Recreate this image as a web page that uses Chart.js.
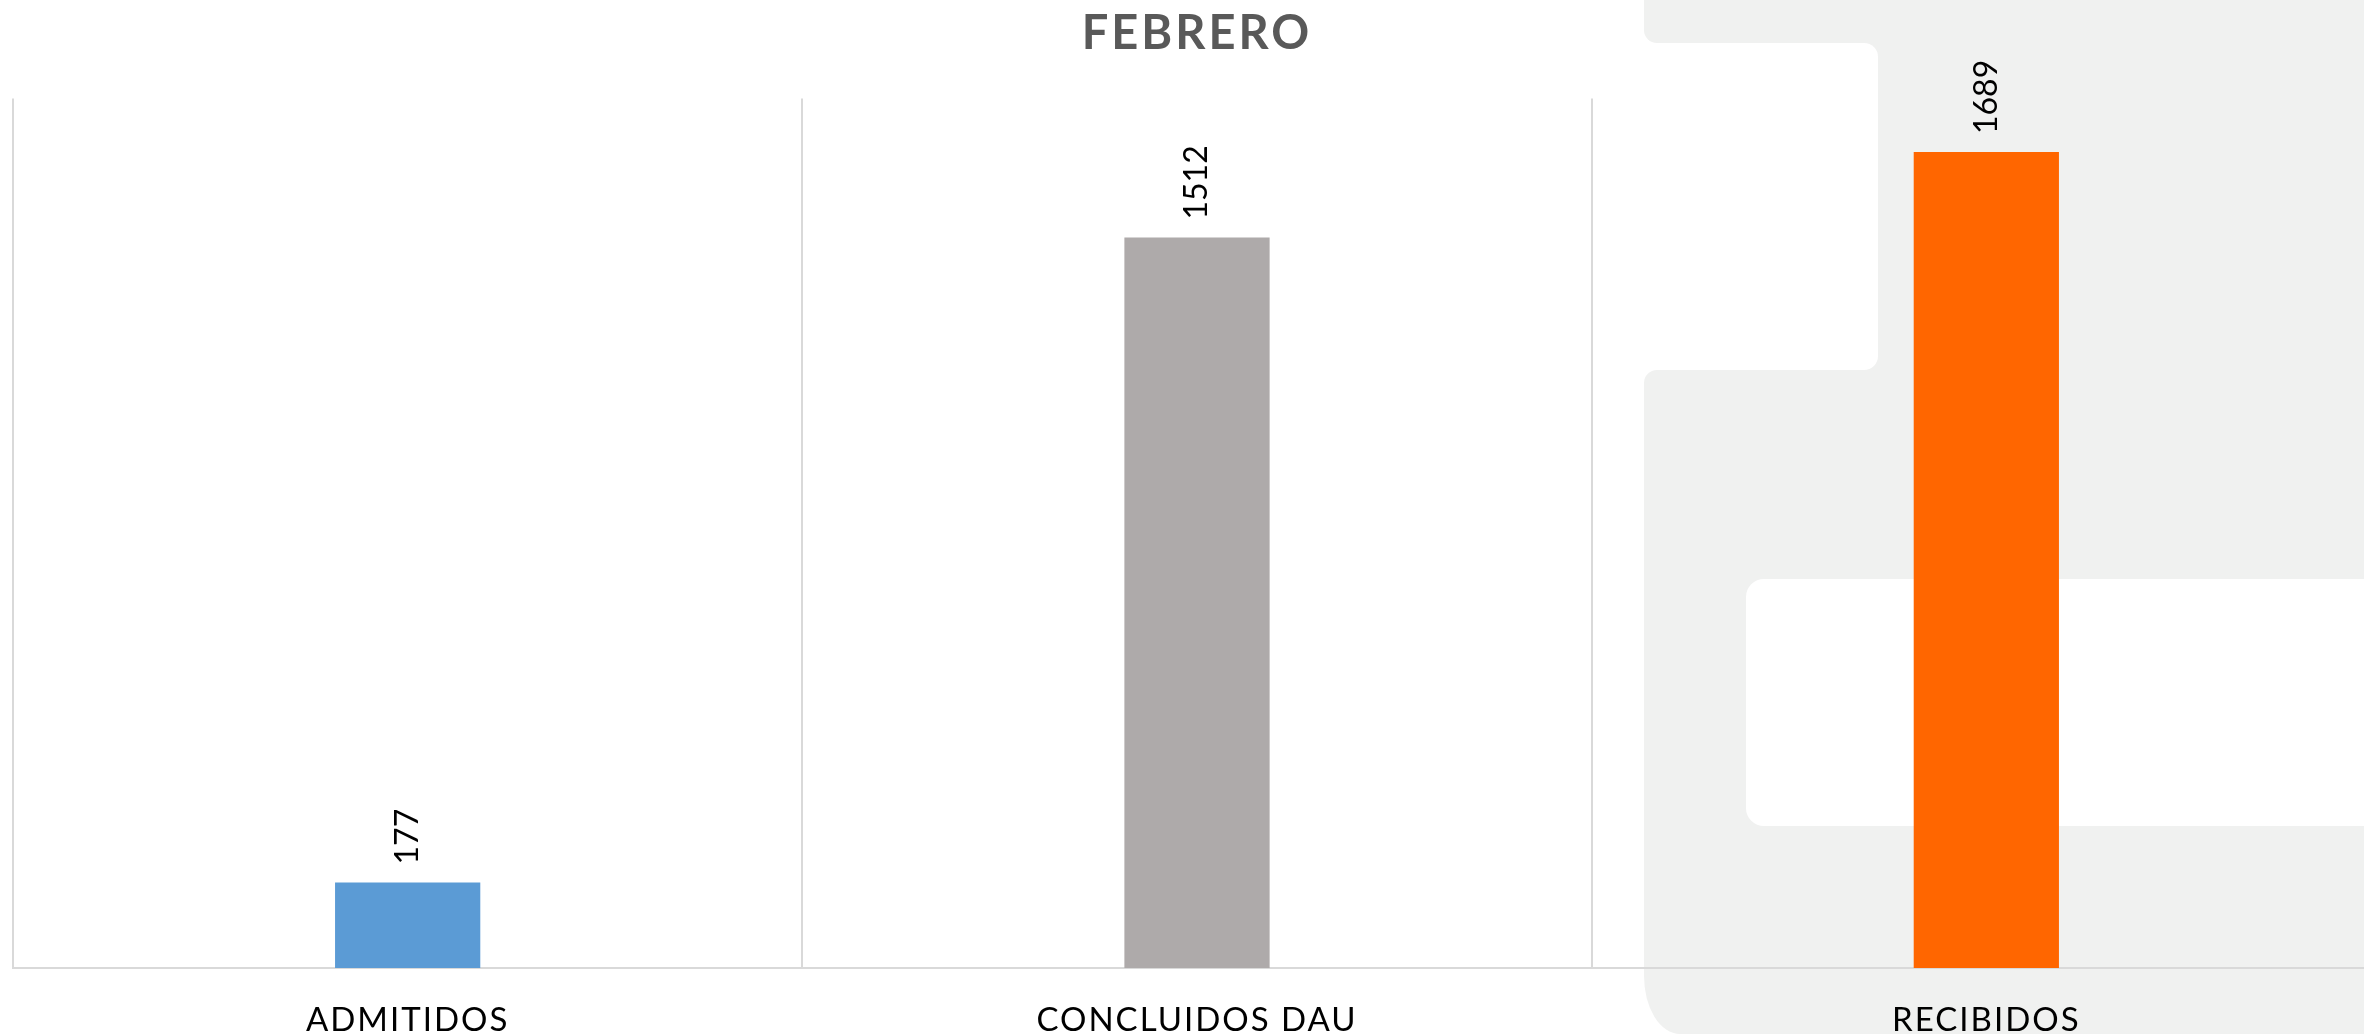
<!DOCTYPE html>
<html lang="es">
<head>
<meta charset="utf-8">
<title>Febrero</title>
<script src="https://cdn.jsdelivr.net/npm/chart.js@4.4.1/dist/chart.umd.min.js"></script>
<style>
  html, body { margin: 0; padding: 0; background: #fff; overflow: hidden; }
  .stage { position: relative; width: 2364px; height: 1034px; overflow: hidden; }
  .deco { position: absolute; background: #f0f1f0; }
  .deco.white { background: #fff; }
  /* background panel shapes */
  .g-top { left: 1644px; top: 0; width: 720px; height: 43px; border-bottom-left-radius: 13px; }
  .g-right { left: 1850px; top: 0; width: 514px; height: 1034px; }
  .g-low { left: 1644px; top: 370px; width: 720px; height: 664px; border-top-left-radius: 13px; border-bottom-left-radius: 36px 58px; }
  .w-notch { left: 1600px; top: 43px; width: 278px; height: 327px; border-radius: 14px; }
  .w-box { left: 1746px; top: 579px; width: 640px; height: 247px; border-radius: 18px; }
  #chartWrap { position: absolute; left: 0; top: 0; }
</style>
</head>
<body>
<div class="stage">
  <div class="deco g-top"></div>
  <div class="deco g-right"></div>
  <div class="deco g-low"></div>
  <div class="deco white w-notch"></div>
  <div class="deco white w-box"></div>
  <div id="chartWrap"><canvas id="febChart" width="2381" height="1034"></canvas></div>
</div>
<script>
// Data
const categories = ['ADMITIDOS', 'CONCLUIDOS DAU', 'RECIBIDOS'];
const values = [177, 1512, 1689];
const barColors = ['#5b9bd5', '#aeaaaa', '#ff6600'];
const yMax = 1800;

// rotated value labels above each bar
const barValueLabels = {
    id: 'barValueLabels',
    afterDatasetsDraw(chart) {
        const ctx = chart.ctx;
        const meta = chart.getDatasetMeta(0);
        ctx.save();
        ctx.font = '32px Lato';
        ctx.fillStyle = '#000';
        ctx.textAlign = 'left';
        ctx.textBaseline = 'middle';
        meta.data.forEach((bar, i) => {
            ctx.save();
            ctx.translate(bar.x, bar.y - 18);
            ctx.rotate(-Math.PI / 2);
            ctx.fillText(String(values[i]), 0, 0);
            ctx.restore();
        });
        ctx.restore();
    }
};

// letter spacing: title 3px, category labels 2px
const spacedText = {
    id: 'spacedText',
    afterLayout(chart) {
        const xScale = chart.scales.x;
        if (xScale && !xScale._spaced) {
            const orig = xScale.drawLabels;
            xScale.drawLabels = function (area) {
                const prev = chart.ctx.letterSpacing;
                chart.ctx.letterSpacing = '2px';
                orig.call(this, area);
                chart.ctx.letterSpacing = prev;
            };
            xScale._spaced = true;
        }
    },
    beforeDraw(chart) { chart.ctx.letterSpacing = '3px'; },
    beforeDatasetsDraw(chart) { chart.ctx.letterSpacing = '0px'; }
};

new Chart(document.getElementById('febChart'), {
    type: 'bar',
    data: {
        labels: categories,
        datasets: [{
            label: 'Febrero',
            data: values,
            backgroundColor: barColors,
            borderWidth: 0,
            categoryPercentage: 1,
            barPercentage: 0.184
        }]
    },
    options: {
        responsive: false,
        animation: false,
        layout: { padding: { left: 13, right: 0, top: 0, bottom: 0 } },
        plugins: {
            legend: { display: false },
            tooltip: { enabled: false },
            title: {
                display: true,
                text: 'FEBRERO',
                color: '#595959',
                font: { family: 'Lato', size: 47, weight: 'bold' },
                padding: { top: 6, bottom: 36 }
            }
        },
        scales: {
            x: {
                grid: { color: '#d9d9d9', lineWidth: 2, drawTicks: false, offset: true },
                border: { color: '#d9d9d9', width: 2 },
                ticks: { color: '#000', font: { family: 'Lato', size: 33 }, padding: 33 },
                afterFit(scale) { scale.height = 66; }
            },
            y: { display: false, min: 0, max: yMax }
        }
    },
    plugins: [spacedText, barValueLabels]
});
</script>
</body>
</html>
